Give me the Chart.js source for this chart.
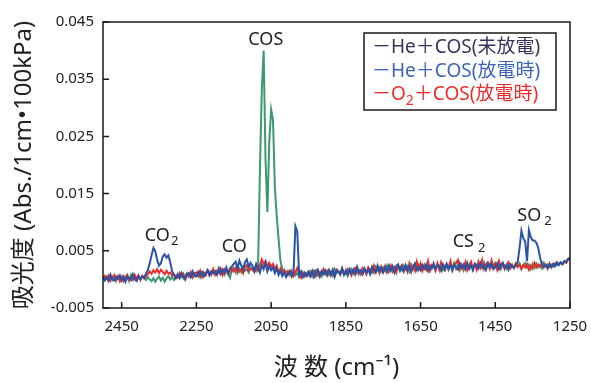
<!DOCTYPE html>
<html>
<head>
<meta charset="utf-8">
<script src="https://cdn.jsdelivr.net/npm/chart.js@4/dist/chart.umd.min.js"></script>
<style>
  body { margin: 0; background: #fff; }
  canvas { display: block; }
</style>
</head>
<body>
<canvas id="chart" width="591" height="383"></canvas>
<script>
var FAMILY = '"Noto Sans", "Noto Sans CJK JP", sans-serif';

// wavenumber grid (cm-1), shared by the three spectra
var wavenumbers = [
  2500,2495,2490,2485,2480,2475,2470,2465,2460,2455,
  2450,2445,2440,2435,2430,2425,2420,2415,2410,2405,
  2400,2395,2390,2385,2380,2375,2370,2365,2360,2355,
  2350,2345,2340,2335,2330,2325,2320,2315,2310,2305,
  2300,2295,2290,2285,2280,2275,2270,2265,2260,2255,
  2250,2245,2240,2235,2230,2225,2220,2215,2210,2205,
  2200,2195,2190,2185,2180,2175,2170,2165,2160,2155,
  2150,2145,2140,2135,2130,2125,2120,2115,2110,2105,
  2100,2095,2090,2085,2080,2075,2070,2065,2060,2055,
  2050,2045,2040,2035,2030,2025,2020,2015,2010,2005,
  2000,1995,1990,1985,1980,1975,1970,1965,1960,1955,
  1950,1945,1940,1935,1930,1925,1920,1915,1910,1905,
  1900,1895,1890,1885,1880,1875,1870,1865,1860,1855,
  1850,1845,1840,1835,1830,1825,1820,1815,1810,1805,
  1800,1795,1790,1785,1780,1775,1770,1765,1760,1755,
  1750,1745,1740,1735,1730,1725,1720,1715,1710,1705,
  1700,1695,1690,1685,1680,1675,1670,1665,1660,1655,
  1650,1645,1640,1635,1630,1625,1620,1615,1610,1605,
  1600,1595,1590,1585,1580,1575,1570,1565,1560,1555,
  1550,1545,1540,1535,1530,1525,1520,1515,1510,1505,
  1500,1495,1490,1485,1480,1475,1470,1465,1460,1455,
  1450,1445,1440,1435,1430,1425,1420,1415,1410,1405,
  1400,1395,1390,1385,1380,1375,1370,1365,1360,1355,
  1350,1345,1340,1335,1330,1325,1320,1315,1310,1305,
  1300,1295,1290,1285,1280,1275,1270,1265,1260,1255,
  1250
];

// He+COS before discharge (drawn green in the original figure)
var heCosOff = [
  .0003,-.0002,.0005,0,.0007,-.0001,.0004,-.0003,.0006,.0001,
  -.0001,.0006,0,.0003,-.0003,.0008,.0002,.0005,-.0001,.0005,
  .0001,.0006,.0002,-.0001,.0004,0,-.0003,.0002,-.0004,.0001,
  .0005,-.0002,.0003,-.0004,.0002,.0006,0,.0004,-.0001,.0005,
  .0008,.0003,.0011,.0002,.0007,.0011,.0005,.0010,.0003,.0010,
  .0006,.0013,.0004,.0013,.0011,.0007,.0016,.0008,.0014,.0011,
  .0015,.0010,.0018,.0009,.0015,.0008,.0016,.0011,.0003,.0019,
  .0014,.0020,.0011,.0019,.0013,.0022,.0015,.0018,.0012,.0021,
  .0016,.0019,.0014,.0020,.0190,.0330,.0400,.0210,.0118,.0240,
  .0297,.0279,.0160,.0111,.0070,.0032,.0018,.0010,.0014,.0008,
  .0015,.0009,.0013,.0007,.0011,.0005,.0014,.0008,.0012,.0006,
  .0007,.0014,.0005,.0013,.0016,.0007,.0012,.0005,.0015,.0010,
  .0015,.0008,.0013,.0006,.0018,.0011,.0015,.0008,.0018,.0011,
  .0009,.0016,.0012,.0018,.0010,.0016,.0020,.0009,.0015,.0018,
  .0016,.0010,.0020,.0013,.0019,.0012,.0022,.0016,.0021,.0014,
  .0021,.0015,.0024,.0013,.0019,.0022,.0015,.0024,.0018,.0021,
  .0016,.0024,.0018,.0023,.0014,.0026,.0018,.0023,.0016,.0026,
  .0023,.0016,.0026,.0018,.0022,.0015,.0025,.0022,.0018,.0026,
  .0019,.0027,.0017,.0024,.0022,.0016,.0026,.0021,.0029,.0019,
  .0027,.0019,.0024,.0016,.0026,.0023,.0018,.0028,.0020,.0025,
  .0019,.0025,.0028,.0020,.0029,.0018,.0024,.0027,.0021,.0026,
  .0029,.0020,.0025,.0018,.0027,.0024,.0019,.0028,.0021,.0026,
  .0020,.0027,.0022,.0028,.0019,.0025,.0029,.0021,.0026,.0018,
  .0027,.0020,.0028,.0021,.0025,.0019,.0029,.0023,.0026,.0022,
  .0026,.0022,.0028,.0025,.0027,.0030,.0026,.0032,.0030,.0034,
  .0035
];

// He+COS during discharge
var heCosOn = [
  .0006,-.0001,.0003,-.0003,.0008,0,-.0002,.0005,.0001,.0007,
  -.0002,.0004,-.0004,.0005,.0003,-.0001,.0009,0,-.0003,.0005,
  .0001,.0005,.0003,.0010,.0016,.0028,.0042,.0055,.0049,.0034,
  .0024,.0028,.0040,.0044,.0038,.0042,.0030,.0014,.0008,.0002,
  .0009,.0002,.0011,.0005,0,.0009,.0011,.0004,.0014,.0006,
  .0005,.0013,.0007,.0013,.0005,.0011,.0016,.0007,.0014,.0011,
  .0014,.0008,.0019,.0010,.0017,.0012,.0021,.0011,.0018,.0023,
  .0027,.0031,.0019,.0033,.0024,.0017,.0030,.0035,.0022,.0029,
  .0024,.0015,.0027,.0020,.0012,.0025,.0018,.0029,.0014,.0023,
  .0016,.0021,.0011,.0019,.0008,.0015,.0006,.0012,.0004,.0010,
  .0014,.0005,.0012,.0093,.0084,.0007,.0013,.0004,.0011,.0006,
  .0013,.0006,.0015,.0004,.0012,.0017,.0006,.0014,.0009,.0016,
  .0007,.0016,.0009,.0017,.0005,.0015,.0013,.0009,.0019,.0008,
  .0016,.0007,.0018,.0011,.0017,.0009,.0022,.0013,.0016,.0009,
  .0019,.0012,.0017,.0009,.0022,.0017,.0012,.0024,.0015,.0020,
  .0012,.0021,.0015,.0024,.0015,.0023,.0012,.0021,.0026,.0015,
  .0022,.0014,.0025,.0017,.0023,.0013,.0022,.0028,.0017,.0021,
  .0016,.0025,.0019,.0026,.0015,.0024,.0019,.0028,.0018,.0025,
  .0023,.0015,.0026,.0018,.0027,.0019,.0025,.0016,.0025,.0021,
  .0017,.0028,.0020,.0026,.0018,.0029,.0019,.0024,.0016,.0027,
  .0026,.0019,.0029,.0021,.0025,.0017,.0028,.0022,.0027,.0018,
  .0021,.0028,.0018,.0026,.0029,.0020,.0025,.0017,.0027,.0022,
  .0021,.0024,.0030,.0055,.0085,.0072,.0066,.0032,.0086,.0074,
  .0068,.0068,.0064,.0055,.0038,.0026,.0022,.0025,.0020,.0026,
  .0022,.0027,.0023,.0029,.0025,.0030,.0027,.0032,.0031,.0036,
  .0038
];

// O2+COS during discharge
var o2CosOn = [
  -.0001,.0006,.0001,.0007,-.0002,.0004,.0008,0,.0005,-.0003,
  .0005,-.0003,.0004,.0008,-.0001,.0003,-.0001,.0008,.0001,.0007,
  -.0001,.0006,.0002,.0005,.0009,.0014,.0010,.0016,.0012,.0018,
  .0011,.0017,.0013,.0009,.0015,.0010,.0012,.0006,.0009,.0003,
  .0003,.0011,.0005,.0010,0,.0008,.0005,.0013,.0004,.0011,
  .0012,.0006,.0015,.0004,.0012,.0008,.0016,.0012,.0008,.0018,
  .0008,.0015,.0011,.0019,.0008,.0018,.0015,.0009,.0019,.0014,
  .0020,.0013,.0023,.0014,.0018,.0011,.0022,.0025,.0015,.0019,
  .0019,.0013,.0022,.0016,.0025,.0035,.0027,.0032,.0023,.0029,
  .0022,.0027,.0018,.0024,.0012,.0019,.0010,.0016,.0007,.0014,
  .0008,.0015,.0006,.0013,.0020,.0009,.0003,.0012,.0005,.0010,
  .0014,.0005,.0011,.0015,.0006,.0014,.0005,.0014,.0018,.0009,
  .0014,.0017,.0007,.0013,.0006,.0017,.0013,.0009,.0019,.0009,
  .0011,.0018,.0014,.0007,.0017,.0020,.0011,.0016,.0009,.0020,
  .0017,.0009,.0021,.0017,.0012,.0024,.0014,.0021,.0011,.0022,
  .0014,.0023,.0012,.0019,.0025,.0014,.0021,.0012,.0024,.0020,
  .0025,.0015,.0021,.0013,.0028,.0019,.0024,.0015,.0031,.0018,
  .0028,.0015,.0023,.0017,.0032,.0016,.0025,.0023,.0015,.0028,
  .0017,.0030,.0022,.0016,.0027,.0020,.0032,.0016,.0025,.0029,
  .0034,.0017,.0026,.0019,.0030,.0016,.0024,.0031,.0018,.0027,
  .0017,.0031,.0021,.0034,.0018,.0026,.0030,.0019,.0033,.0020,
  .0027,.0017,.0032,.0021,.0028,.0018,.0025,.0030,.0019,.0024,
  .0020,.0028,.0022,.0026,.0018,.0025,.0021,.0027,.0017,.0024,
  .0019,.0029,.0021,.0026,.0022,.0028,.0021,.0026,.0019,.0028,
  .0021,.0027,.0024,.0030,.0026,.0029,.0027,.0031,.0029,.0035,
  .0036
];

var xTicks = [2450, 2250, 2050, 1850, 1650, 1450, 1250];
var yTicks = [-0.005, 0.005, 0.015, 0.025, 0.035, 0.045];

var legendItems = [
  { parts: [{ t: '－He＋COS(未放電)' }], color: '#33335e' },
  { parts: [{ t: '－He＋COS(放電時)' }], color: '#3d64b4' },
  { parts: [{ t: '－O' }, { t: '2', sub: true }, { t: '＋COS(放電時)' }], color: '#ee2b2b' }
];

// peak labels: [text, subscript, wavenumber at left edge, absorbance at middle, subscript gap]
var peakLabels = [
  ['CO', '2', 2388, 0.0076, 1],
  ['CO', '', 2182, 0.0056, 0],
  ['COS', '', 2111, 0.0419, 0],
  ['CS', '2', 1564, 0.0065, 4],
  ['SO', '2', 1391, 0.0111, 3]
];

function toPoints(values) {
  return wavenumbers.map(function (w, i) { return { x: w, y: values[i] }; });
}

function drawRich(ctx, x, y, parts, size, gap) {
  parts.forEach(function (p) {
    var s = p.sub ? Math.round(size * 0.72) : size;
    ctx.font = s + 'px ' + FAMILY;
    if (p.sub) x += gap || 0;
    ctx.fillText(p.t, x, p.sub ? y + size * 0.32 : y);
    x += ctx.measureText(p.t).width;
  });
}

var framePlugin = {
  id: 'frame',
  afterDraw: function (chart) {
    var ctx = chart.ctx, a = chart.chartArea;
    var xs = chart.scales.x, ys = chart.scales.y;
    ctx.save();
    ctx.strokeStyle = '#1a1a1a';
    ctx.lineWidth = 1.5;
    ctx.strokeRect(a.left, a.top, a.right - a.left, a.bottom - a.top);
    ctx.beginPath();
    yTicks.forEach(function (v) {
      var py = ys.getPixelForValue(v);
      ctx.moveTo(a.left, py); ctx.lineTo(a.left + 6, py);
    });
    xTicks.forEach(function (v) {
      var px = xs.getPixelForValue(v);
      ctx.moveTo(px, a.bottom); ctx.lineTo(px, a.bottom - 6);
    });
    ctx.stroke();

    // peak labels
    ctx.fillStyle = '#222';
    ctx.textBaseline = 'middle';
    ctx.textAlign = 'left';
    peakLabels.forEach(function (l) {
      var parts = [{ t: l[0] }];
      if (l[1]) parts.push({ t: l[1], sub: true });
      drawRich(ctx, xs.getPixelForValue(l[2]), ys.getPixelForValue(l[3]), parts, 18, l[4]);
    });

    // legend box
    var bx = a.right - 206, by = a.top + 11, bw = 192, bh = 77;
    ctx.fillStyle = '#fff';
    ctx.fillRect(bx, by, bw, bh);
    ctx.strokeStyle = '#1a1a1a';
    ctx.lineWidth = 1.5;
    ctx.strokeRect(bx, by, bw, bh);
    legendItems.forEach(function (it, i) {
      ctx.fillStyle = it.color;
      drawRich(ctx, bx + 8, by + 15 + i * 23.5, it.parts, 19, 0);
    });
    ctx.restore();
  }
};

var lineDefaults = { pointRadius: 0, borderWidth: 2, tension: 0, fill: false };

new Chart(document.getElementById('chart'), {
  type: 'line',
  data: {
    datasets: [
      Object.assign({ label: 'He+COS(放電時)', data: toPoints(heCosOn), borderColor: '#2a53a6', order: 0 }, lineDefaults),
      Object.assign({ label: 'O2+COS(放電時)', data: toPoints(o2CosOn), borderColor: '#ec2c2c', order: 1 }, lineDefaults),
      Object.assign({ label: 'He+COS(未放電)', data: toPoints(heCosOff), borderColor: '#3b9a6c', order: 2 }, lineDefaults)
    ]
  },
  options: {
    responsive: false,
    animation: false,
    parsing: false,
    layout: { padding: { left: 0, right: 21, top: 22, bottom: 0 } },
    plugins: { legend: { display: false }, tooltip: { enabled: false } },
    scales: {
      x: {
        type: 'linear',
        reverse: true,
        min: 1250,
        max: 2500,
        afterBuildTicks: function (s) { s.ticks = xTicks.map(function (v) { return { value: v }; }); },
        afterFit: function (s) { s.height = 75; s.paddingLeft = 0; s.paddingRight = 0; },
        grid: { display: false, drawTicks: false },
        border: { display: false },
        ticks: { padding: 10, color: '#222', maxRotation: 0, autoSkip: false,
                 font: { family: FAMILY, size: 15 },
                 callback: function (v) { return String(v); } },
        title: { display: true, text: '波 数 (cm⁻¹)', color: '#222',
                 font: { family: FAMILY, size: 24 }, padding: { top: 0, bottom: 0 } }
      },
      y: {
        min: -0.005,
        max: 0.045,
        afterBuildTicks: function (s) { s.ticks = yTicks.map(function (v) { return { value: v }; }); },
        afterFit: function (s) { s.width = 103; s.paddingTop = 0; s.paddingBottom = 0; },
        grid: { display: false, drawTicks: false },
        border: { display: false },
        ticks: { padding: 9, color: '#222',
                 font: { family: FAMILY, size: 15 },
                 callback: function (v) { return v.toFixed(3); } },
        title: { display: true, text: '吸光度 (Abs./1cm•100kPa)', color: '#222',
                 font: { family: FAMILY, size: 24 }, padding: { top: 10, bottom: 0 } }
      }
    }
  },
  plugins: [framePlugin]
});
</script>
</body>
</html>
